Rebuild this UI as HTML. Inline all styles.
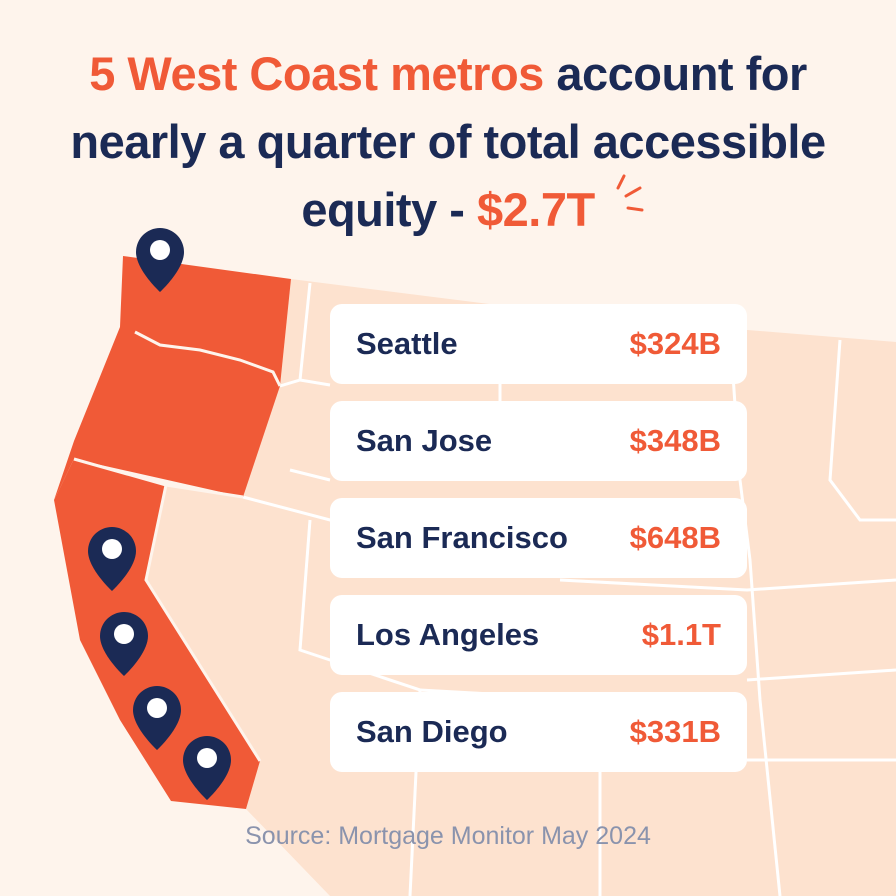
<!DOCTYPE html>
<html><head><meta charset="utf-8"><style>
html,body{margin:0;padding:0}
body{width:896px;height:896px;background:#fef4ec;position:relative;overflow:hidden;font-family:"Liberation Sans",sans-serif}
.t{position:absolute;left:0;width:896px;text-align:center;font-weight:bold;font-size:47px;color:#1b2a55;letter-spacing:-0.5px}
.o{color:#f05a37}
.card{position:absolute;left:330px;width:417px;height:80px;background:#fff;border-radius:12px;box-sizing:border-box;padding:0 26px;display:flex;justify-content:space-between;align-items:center;font-weight:bold;font-size:31px}
.card .n{color:#1b2a55}.card .v{color:#f05a37}
.src{position:absolute;top:822px;left:0;width:896px;text-align:center;font-size:25px;color:#8a93ad}
</style></head><body>
<svg width="896" height="896" style="position:absolute;left:0;top:0">
<polygon points="291,279 600,318 896,342 896,896 330,896 246,809 260,761 146,580 166,485 243,497 280,386" fill="#fde2cf"/>
<g stroke="#fff" stroke-width="3" fill="none">
<polyline points="310,283 300,380 280,386"/>
<polyline points="243,497 330,520 470,520 560,520 747,520"/>
<polyline points="300,380 330,385"/>
<polyline points="500,384 500,401 498,481"/>
<polyline points="730,330 740,480 750,560 760,700 780,896"/>
<polyline points="310,520 300,650 420,690 410,896"/>
<polyline points="420,690 600,700 600,896"/>
<polyline points="560,580 747,590 896,580"/>
<polyline points="747,680 896,670"/>
<polyline points="747,760 896,760"/>
<polyline points="840,340 830,480 860,520 896,520"/>
<polyline points="290,470 330,480"/>
</g>
<polygon points="123,256 291,279 280,386 243,497 74,459 54,500 74,441 120,327" fill="#f05a37"/>
<polygon points="166,485 146,580 260,761 246,809 171,801 120,720 80,640 54,500 74,459" fill="#f05a37"/>
<g stroke="#fef4ec" stroke-width="3" fill="none">
<polyline points="135,332 160,345 200,350 240,360 273,372 280,386"/>
<polyline points="74,459 166,485 243,497"/>
<polyline points="166,485 146,580 260,761"/>
</g>
<g fill="#1b2a55">
<path d="M160,228 a24,24 0 0 1 24,24 c0,18 -24,40 -24,40 c0,0 -24,-22 -24,-40 a24,24 0 0 1 24,-24z"/>
<path d="M112,527 a24,24 0 0 1 24,24 c0,18 -24,40 -24,40 c0,0 -24,-22 -24,-40 a24,24 0 0 1 24,-24z"/>
<path d="M124,612 a24,24 0 0 1 24,24 c0,18 -24,40 -24,40 c0,0 -24,-22 -24,-40 a24,24 0 0 1 24,-24z"/>
<path d="M157,686 a24,24 0 0 1 24,24 c0,18 -24,40 -24,40 c0,0 -24,-22 -24,-40 a24,24 0 0 1 24,-24z"/>
<path d="M207,736 a24,24 0 0 1 24,24 c0,18 -24,40 -24,40 c0,0 -24,-22 -24,-40 a24,24 0 0 1 24,-24z"/>
</g>
<g fill="#fff">
<circle cx="160" cy="250" r="10"/><circle cx="112" cy="549" r="10"/><circle cx="124" cy="634" r="10"/><circle cx="157" cy="708" r="10"/><circle cx="207" cy="758" r="10"/>
</g>
<g stroke="#f05a37" stroke-width="3" stroke-linecap="round">
<line x1="618" y1="188" x2="624" y2="176"/><line x1="626" y1="196" x2="640" y2="188"/><line x1="628" y1="208" x2="642" y2="210"/>
</g>
</svg>
<div class="t" style="top:46px"><span class="o">5 West Coast metros</span> account for</div>
<div class="t" style="top:114px">nearly a quarter of total accessible</div>
<div class="t" style="top:182px">equity - <span class="o">$2.7T</span></div>
<div class="card" style="top:304px"><span class="n">Seattle</span><span class="v">$324B</span></div>
<div class="card" style="top:401px"><span class="n">San Jose</span><span class="v">$348B</span></div>
<div class="card" style="top:498px"><span class="n">San Francisco</span><span class="v">$648B</span></div>
<div class="card" style="top:595px"><span class="n">Los Angeles</span><span class="v">$1.1T</span></div>
<div class="card" style="top:692px"><span class="n">San Diego</span><span class="v">$331B</span></div>
<div class="src">Source: Mortgage Monitor May 2024</div>
</body></html>
